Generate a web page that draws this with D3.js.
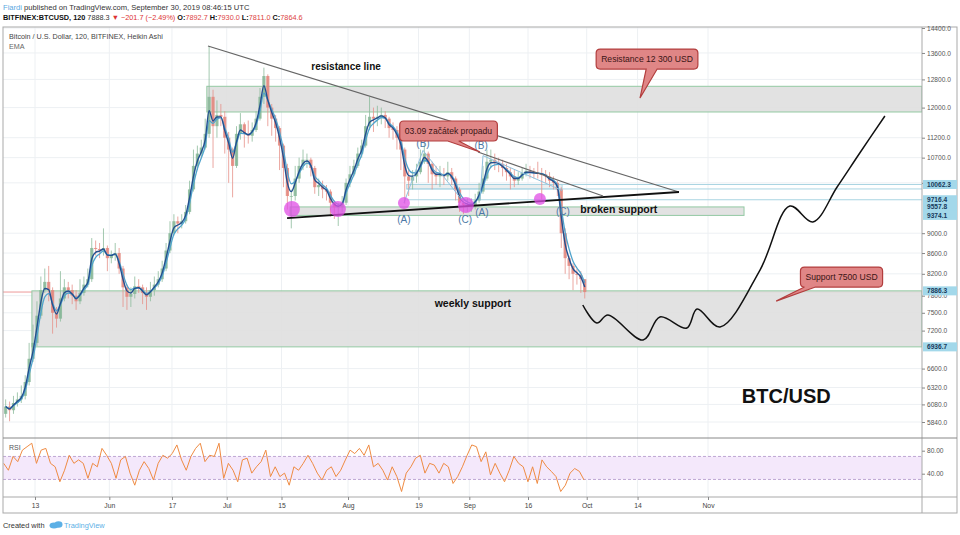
<!DOCTYPE html>
<html>
<head>
<meta charset="utf-8">
<script src="https://cdn.jsdelivr.net/npm/d3@7"></script>
<style>
  body { margin: 0; background: #fff; }
  svg { font-family: "Liberation Sans", Arial, sans-serif; }
</style>
</head>
<body>
<div id="chart"></div>
<script>
// daily values, 5 May - 30 Sep 2019 (BITFINEX BTCUSD)
var startDay = "2019-05-05";
var firstOpen = 5950;
var closes = [
  6050, 6000, 6100, 6150, 6200, 6400, 6750, 7000, 7450, 7900, 8050, 7900, 7500, 7400, 7750, 7950, 7900, 7800, 7700, 7850, 8000, 8100, 8700, 8680, 8650, 8700, 8500,
  8550, 8600, 8300, 7950, 7780, 7830, 7970, 7950, 7850, 7780, 7900, 8000, 8100, 8300, 8650, 9000, 9250, 9200, 9250, 9450, 9950, 10500, 10800, 10950, 11300, 12300, 11500, 11800, 11750, 11200,
  10900, 10500, 11300, 11550, 11300, 11250, 11400, 11700, 12300, 12900, 12000, 11700, 11450, 11000, 10450, 9800, 9800, 10200, 10500, 10650, 10650, 10450, 10000, 10050, 9950, 9900, 9650, 9550, 9550, 9650, 10100,
  10300, 10500, 10800, 11000, 11500, 11750, 11700, 11750, 11800, 11700, 11450, 11400, 11200, 10900, 10250, 10150, 10250, 10350, 10600, 10800, 10550, 10300, 10250, 10300, 10250, 10350, 10200, 9950, 9650, 9600, 9600,
  9600, 9700, 9900, 10200, 10600, 10650, 10580, 10550, 10450, 10350, 10250, 10150, 10200, 10330, 10380, 10350, 10330, 10320, 10300, 10250, 10150, 10100, 9950, 9000, 8500, 8350, 8200, 8180, 8100, 7865
];
var highs = [
  6150, 6120, 6200, 6250, 6350, 6500, 7000, 7300, 7700, 8150, 8300, 8350, 7950, 7600, 8250, 8100, 8050, 8000, 7900, 8100, 8150, 8300, 8900, 8850, 8800, 9100, 8750,
  8650, 8800, 8700, 8350, 8000, 7950, 8150, 8100, 8000, 7950, 8050, 8150, 8250, 8450, 8800, 9250, 9400, 9350, 9400, 9600, 10150, 10900, 11000, 11150, 11700, 13800, 12500, 12200, 12100, 11900,
  11350, 10950, 11500, 11850, 11600, 11650, 11600, 11900, 12550, 13150, 12950, 12100, 11800, 11500, 11050, 10550, 9950, 10500, 10700, 10900, 10800, 10700, 10500, 10200, 10150, 10050, 9950, 9700, 9650, 9800, 10200,
  10500, 10650, 10950, 11150, 11800, 12300, 12000, 12050, 12000, 11900, 11750, 11600, 11500, 11250, 10950, 10450, 10400, 10550, 10900, 11050, 10850, 10600, 10500, 10500, 10450, 10600, 10450, 10250, 10000, 9700, 9750,
  9750, 9850, 10100, 10500, 10900, 10900, 10800, 10700, 10650, 10550, 10450, 10400, 10350, 10450, 10550, 10500, 10450, 10600, 10450, 10400, 10350, 10250, 10150, 10000, 9100, 8550, 8400, 8300, 8250, 8100
];
var lows = [
  5900, 5850, 5950, 6050, 6100, 6150, 6350, 6700, 6950, 7400, 7850, 7700, 7150, 7250, 7350, 7700, 7750, 7650, 7550, 7650, 7800, 7950, 8050, 8550, 8500, 8550, 8250,
  8400, 8450, 8200, 7600, 7550, 7600, 7750, 7850, 7650, 7550, 7700, 7800, 7950, 8050, 8250, 8600, 8950, 9000, 9100, 9200, 9400, 9900, 10400, 10700, 10900, 11200, 10450, 11200, 11500, 10800,
  10100, 9770, 10450, 11150, 10950, 11050, 11100, 11350, 11650, 12100, 11500, 11250, 11100, 10400, 10000, 9500, 9100, 9700, 10100, 10400, 10450, 10250, 9850, 9800, 9750, 9700, 9350, 9300, 9150, 9450, 9600,
  10000, 10250, 10450, 10700, 10950, 11400, 11350, 11500, 11550, 11450, 11200, 11150, 10900, 10400, 9630, 9800, 9950, 10100, 10300, 10550, 10100, 9950, 10050, 10000, 10050, 10150, 10050, 9700, 9450, 9400, 9450,
  9450, 9500, 9650, 9850, 10150, 10450, 10400, 10350, 10250, 10150, 9950, 10000, 10050, 10150, 10250, 10200, 10200, 10200, 9720, 10100, 10000, 9950, 9800, 8700, 8200, 8100, 7900, 8000, 7850, 7750
];
var lastTime = "2019-09-30 08";

var rsiValues = [
  58, 46, 70, 61, 81, 87, 93, 58, 81, 84, 58, 52, 26, 46, 72, 58, 64, 58, 32, 58,
  52, 84, 72, 58, 32, 64, 70, 41, 20, 46, 61, 49, 29, 58, 72, 67, 75, 90, 64, 46,
  70, 84, 93, 61, 72, 70, 93, 32, 58, 46, 26, 64, 67, 41, 52, 61, 81, 35, 52, 35,
  41, 20, 52, 46, 58, 72, 58, 41, 29, 46, 52, 35, 46, 64, 81, 75, 84, 72, 90, 52,
  58, 46, 29, 52, 35, 9, 41, 52, 67, 72, 41, 58, 55, 41, 58, 52, 23, 35, 52, 72,
  90, 87, 61, 78, 38, 58, 41, 26, 46, 70, 58, 52, 26, 52, 23, 64, 52, 44, 35, 9,
  20, 41, 49, 44, 29
];

// axes
var priceTicks = [14400, 13600, 12800, 12000, 11200, 10700, 10100, 9000, 8600, 8200, 7800, 7500, 7200, 6600, 6320, 6080, 5840];
var markedPrices = [10062.3, 9716.4, 9557.8, 9374.1, 7886.3, 6936.7];
var timeTicks = ["2019-05-13", "2019-06-01", "2019-06-17", "2019-07-01", "2019-07-15", "2019-08-01", "2019-08-19", "2019-09-01", "2019-09-16", "2019-10-01", "2019-10-14", "2019-11-01"];
var timeLabels = ["13", "Jun", "17", "Jul", "15", "Aug", "19", "Sep", "16", "Oct", "14", "Nov"];

// drawings
var zoneFrom = ["2019-06-25 22", "2019-05-12 05", "2019-07-17 05", "2019-08-16 00"];
var zoneTo = [null, null, "2019-11-10 05", "2019-09-24 17"];
var zoneTop = [12600, 7886.3, 9557.8, 10062.3];
var zoneBottom = [11880, 6936.7, 9374.1, 9960];

var levelFrom = ["2019-08-16 00", "2019-08-16 00", "2019-08-16 00"];
var levelPrices = [10062.3, 9960, 9716.4];

var trendFrom = ["2019-06-26 05", "2019-07-16 10", "2019-09-03 05"];
var trendFromPrice = [13818, 9318, 10839];
var trendTo = ["2019-10-24 14", "2019-10-24 14", "2019-10-05 04"];
var trendToPrice = [9890, 9890, 9799];

var waveADates = ["2019-08-15 07", "2019-08-20 04", "2019-08-31 03"];
var waveAPrices = [9644, 10880, 9600];
var waveBDates = ["2019-09-03 17", "2019-09-04 12", "2019-09-24 17"];
var waveBPrices = [9700, 10750, 9925];

var circleDates = ["2019-07-17 16", "2019-07-29 10", "2019-08-15 07", "2019-08-31 03", "2019-09-19 01"];
var circlePrices = [9513, 9513, 9644, 9600, 9733];

var waveText = ["(A)", "(B)", "(C)", "(A)", "(B)", "(C)"];
var waveDates = ["2019-08-15 07", "2019-08-20 04", "2019-08-30 22", "2019-09-04 05", "2019-09-04 00", "2019-09-24 22"];
var wavePrices = [9297, 11065, 9297, 9426, 10990, 9448];

var noteText = ["resistance line", "weekly support", "broken support", "BTC/USD"];
var noteDates = ["2019-07-31 12", "2019-09-01 22", "2019-10-09 05", "2019-11-21 00"];
var notePrices = [13199, 7669, 9513, 6198];

var calloutText = ["Resistance 12 300 USD", "03.09 začátek propadu", "Support 7500 USD"];
var calloutDates = ["2019-10-16 10", "2019-08-26 16", "2019-12-05 03"];
var calloutPrices = [13412, 11373, 8140];
var tipDates = ["2019-10-14 15", "2019-09-03 17", "2019-11-18 10"];
var tipPrices = [12266, 10839, 7704];

// hand drawn projection
var projDates = ["2019-09-30 00", "2019-10-03 14", "2019-10-06 10", "2019-10-15 10", "2019-10-19 17", "2019-10-26 14", "2019-10-29 05",
  "2019-11-04 02", "2019-11-14 07", "2019-11-21 22", "2019-11-27 19", "2019-12-04 00", "2019-12-09 19", "2019-12-16 05"];
var projPrices = [7635, 7327, 7462, 7046, 7428, 7242, 7565, 7259, 8272, 9578, 9233, 10004, 10814, 11771];

// layout
var svgWidth = 960;
var svgHeight = 535;
var pane = { left: 3, right: 922, outer: 957, top: 27, main: 438, rsi: 497, bottom: 513 };

var parseDay = d3.utcParse("%Y-%m-%d");
var parseHour = d3.utcParse("%Y-%m-%d %H");

var svg = d3.select("#chart")
  .append("svg")
  .attr("width", svgWidth)
  .attr("height", svgHeight);

var x = d3.scaleUtc()
  .domain([parseDay("2019-05-13"), parseDay("2019-11-01")])
  .range([35, 708]);

var y = d3.scaleLog()
  .domain([5840, 14400])
  .range([422, 28]);

var yRsi = d3.scaleLinear()
  .domain([0, 100])
  .range([496.7, 439.2]);

var day0 = parseDay(startDay);
var candles = closes.map(function(c, i) {
  return {
    date: d3.utcHour.offset(d3.utcDay.offset(day0, i), 12),
    open: i ? closes[i - 1] : firstOpen,
    close: c,
    high: highs[i],
    low: lows[i]
  };
});

function ema(values, n) {
  var k = 2 / (n + 1), prev = values[0];
  return values.map(function(v) { prev = v * k + prev * (1 - k); return prev; });
}

// header
var head1 = svg.append("text").attr("x", 3).attr("y", 10).style("font-size", "7.6px");
head1.append("tspan").attr("fill", "#5aa8df").text("Fiardi");
head1.append("tspan").attr("fill", "#333").text(" published on TradingView.com, September 30, 2019 08:46:15 UTC");

var head2 = svg.append("text").attr("x", 3).attr("y", 20).style("font-size", "7.3px");
head2.append("tspan").attr("font-weight", "bold").attr("fill", "#111").text("BITFINEX:BTCUSD, 120");
head2.append("tspan").attr("fill", "#333").text(" 7888.3 ");
head2.append("tspan").attr("fill", "#d33").text("\u25BC \u2212201.7 (\u22122.49%)");
[["O:", "7892.7"], ["H:", "7930.0"], ["L:", "7811.0"], ["C:", "7864.6"]].forEach(function(p) {
  head2.append("tspan").attr("font-weight", "bold").attr("fill", "#111").text(" " + p[0]);
  head2.append("tspan").attr("fill", "#d44").text(p[1]);
});

// clip paths
var defs = svg.append("defs");
defs.append("clipPath").attr("id", "mainClip").append("rect")
  .attr("x", pane.left).attr("y", pane.top).attr("width", pane.right - pane.left).attr("height", pane.main - pane.top);
defs.append("clipPath").attr("id", "rsiClip").append("rect")
  .attr("x", pane.left).attr("y", pane.main).attr("width", pane.right - pane.left).attr("height", pane.rsi - pane.main);

// grid
var grid = svg.append("g");
grid.selectAll(".hgrid")
  .data(priceTicks)
  .enter()
  .append("line")
  .attr("x1", pane.left).attr("x2", pane.right)
  .attr("y1", d => y(d)).attr("y2", d => y(d))
  .attr("stroke", "#edf0f3");
grid.selectAll(".vgrid")
  .data(timeTicks)
  .enter()
  .append("line")
  .attr("x1", d => x(parseDay(d))).attr("x2", d => x(parseDay(d)))
  .attr("y1", pane.top).attr("y2", pane.rsi)
  .attr("stroke", "#edf0f3");

var main = svg.append("g").attr("clip-path", "url(#mainClip)");

// last price line
main.append("line")
  .attr("x1", pane.left).attr("x2", pane.right)
  .attr("y1", y(closes[closes.length - 1])).attr("y2", y(closes[closes.length - 1]))
  .attr("stroke", "#e88080").attr("stroke-width", 0.8);

// zones
zoneFrom.forEach(function(f, i) {
  var x0 = x(parseHour(f));
  var x1 = zoneTo[i] ? x(parseHour(zoneTo[i])) : pane.right;
  main.append("rect")
    .attr("x", x0).attr("y", y(zoneTop[i]))
    .attr("width", x1 - x0).attr("height", y(zoneBottom[i]) - y(zoneTop[i]))
    .attr("fill", i == 3 ? "#e9eced" : "#dfdfdf")
    .attr("fill-opacity", 0.9)
    .attr("stroke", i == 3 ? "#a9d4e2" : "#93c9a3")
    .attr("stroke-width", 1);
});

levelFrom.forEach(function(f, i) {
  main.append("line")
    .attr("x1", x(parseHour(f))).attr("x2", pane.right)
    .attr("y1", y(levelPrices[i])).attr("y2", y(levelPrices[i]))
    .attr("stroke", "#a9d4e2").attr("stroke-width", 1);
});

// candles
var candleGroup = main.append("g");
candleGroup.selectAll(".wick")
  .data(candles)
  .enter()
  .append("line")
  .attr("x1", d => x(d.date)).attr("x2", d => x(d.date))
  .attr("y1", d => y(d.high)).attr("y2", d => y(d.low))
  .attr("stroke", d => d.close >= d.open ? "#8dbb9c" : "#e69189")
  .attr("stroke-width", 0.8);
candleGroup.selectAll(".body")
  .data(candles)
  .enter()
  .append("rect")
  .attr("x", d => x(d.date) - 1.6)
  .attr("width", 3.2)
  .attr("y", d => y(Math.max(d.open, d.close)))
  .attr("height", d => Math.max(0.8, Math.abs(y(d.open) - y(d.close))))
  .attr("fill", d => d.close >= d.open ? "#86b696" : "#e3867d")
  .attr("fill-opacity", 0.85);

// EMA lines
var emaSlow = ema(closes, 3);
var emaFast = ema(closes, 2);
var emaLine = d3.line()
  .x((d, i) => x(candles[i].date))
  .y(d => y(d))
  .curve(d3.curveMonotoneX);
main.append("path").datum(emaSlow).attr("d", emaLine)
  .attr("fill", "none").attr("stroke", "#4fa3cc").attr("stroke-width", 1.3);
main.append("path").datum(emaFast).attr("d", emaLine)
  .attr("fill", "none").attr("stroke", "#234f8f").attr("stroke-width", 1.4);

// trend lines
trendFrom.forEach(function(f, i) {
  main.append("line")
    .attr("x1", x(parseHour(f))).attr("y1", y(trendFromPrice[i]))
    .attr("x2", x(parseHour(trendTo[i]))).attr("y2", y(trendToPrice[i]))
    .attr("stroke", i == 1 ? "#111" : "#666")
    .attr("stroke-width", i == 1 ? 1.8 : 1.2);
});

// wave connectors
var waveLine = d3.line().x(d => x(parseHour(d[0]))).y(d => y(d[1]));
[d3.zip(waveADates, waveAPrices), d3.zip(waveBDates, waveBPrices)].forEach(function(pts) {
  main.append("path").datum(pts).attr("d", waveLine)
    .attr("fill", "none").attr("stroke", "#8fc0dc").attr("stroke-width", 1);
});

// magenta markers
var circleSize = [8, 8, 6, 8, 6];
main.selectAll(".dot")
  .data(circleDates)
  .enter()
  .append("circle")
  .attr("cx", d => x(parseHour(d)))
  .attr("cy", (d, i) => y(circlePrices[i]))
  .attr("r", (d, i) => circleSize[i])
  .attr("fill", "#e04ee6")
  .attr("opacity", 0.75);

// wave labels
main.selectAll(".wave")
  .data(waveText)
  .enter()
  .append("text")
  .attr("x", (d, i) => x(parseHour(waveDates[i])))
  .attr("y", (d, i) => y(wavePrices[i]))
  .attr("dy", "0.35em")
  .style("text-anchor", "middle")
  .style("font-size", "10px")
  .attr("fill", "#4d78a6")
  .text(d => d);

// text notes
var noteSize = [10, 10.5, 10.5, 20];
main.selectAll(".note")
  .data(noteText)
  .enter()
  .append("text")
  .attr("x", (d, i) => x(parseHour(noteDates[i])))
  .attr("y", (d, i) => y(notePrices[i]))
  .attr("dy", "0.35em")
  .style("text-anchor", "middle")
  .style("font-weight", "bold")
  .style("font-size", (d, i) => noteSize[i] + "px")
  .attr("fill", "#111")
  .text(d => d);

// projection
var projLine = d3.line()
  .x(d => x(parseHour(d[0])))
  .y(d => y(d[1]))
  .curve(d3.curveCatmullRom.alpha(0.5));
main.append("path")
  .datum(d3.zip(projDates, projPrices))
  .attr("d", projLine)
  .attr("fill", "none")
  .attr("stroke", "#111")
  .attr("stroke-width", 1.5);

// callouts
var baseOffset = [50, 48, 4];
calloutText.forEach(function(t, i) {
  var cx = x(parseHour(calloutDates[i])), cy = y(calloutPrices[i]);
  var g = main.append("g");
  var label = g.append("text")
    .attr("x", cx).attr("y", cy).attr("dy", "0.35em")
    .style("text-anchor", "middle")
    .style("font-size", "8.6px")
    .attr("fill", "#3a1515")
    .text(t);
  var b = label.node().getBBox();
  var x0 = b.x - 5, x1 = b.x + b.width + 5, y0 = cy - 10, y1 = cy + 10, r = 4;
  var bx1 = x0 + baseOffset[i], bx2 = bx1 + 11;
  var tx = x(parseHour(tipDates[i])), ty = y(tipPrices[i]);
  var p = d3.path();
  p.moveTo(x0 + r, y0);
  p.lineTo(x1 - r, y0);
  p.quadraticCurveTo(x1, y0, x1, y0 + r);
  p.lineTo(x1, y1 - r);
  p.quadraticCurveTo(x1, y1, x1 - r, y1);
  p.lineTo(bx2, y1);
  p.lineTo(tx, ty);
  p.lineTo(bx1, y1);
  p.lineTo(x0 + r, y1);
  p.quadraticCurveTo(x0, y1, x0, y1 - r);
  p.lineTo(x0, y0 + r);
  p.quadraticCurveTo(x0, y0, x0 + r, y0);
  p.closePath();
  g.insert("path", "text")
    .attr("d", p.toString())
    .attr("fill", "#e08686")
    .attr("stroke", "#b23e3e")
    .attr("stroke-width", 1.2);
});

// chart title
svg.append("text").attr("x", 9).attr("y", 39)
  .style("font-size", "7.2px").attr("fill", "#444")
  .text("Bitcoin / U.S. Dollar, 120, BITFINEX, Heikin Ashi");
svg.append("text").attr("x", 9).attr("y", 49)
  .style("font-size", "7.2px").attr("fill", "#666")
  .text("EMA");

// RSI pane
var rsiGroup = svg.append("g").attr("clip-path", "url(#rsiClip)");
rsiGroup.append("rect")
  .attr("x", pane.left).attr("width", pane.right - pane.left)
  .attr("y", yRsi(70)).attr("height", yRsi(30) - yRsi(70))
  .attr("fill", "#f4e8fb");
[70, 30].forEach(function(v) {
  rsiGroup.append("line")
    .attr("x1", pane.left).attr("x2", pane.right)
    .attr("y1", yRsi(v)).attr("y2", yRsi(v))
    .attr("stroke", "#bfa6d4").attr("stroke-dasharray", "3,2");
});
var rsiStart = day0, rsiEnd = parseHour(lastTime);
var rsiStep = (rsiEnd - rsiStart) / (rsiValues.length - 1);
var rsiLine = d3.line()
  .x((d, i) => x(new Date(+rsiStart + i * rsiStep)))
  .y(d => yRsi(d));
rsiGroup.append("path").datum(rsiValues).attr("d", rsiLine)
  .attr("fill", "none").attr("stroke", "#ef8b43").attr("stroke-width", 1);
svg.append("text").attr("x", 9).attr("y", 450)
  .style("font-size", "7px").attr("fill", "#555").text("RSI");

// frame
var frame = svg.append("g").attr("stroke", "#a9a9a9").attr("fill", "none");
frame.append("rect").attr("x", pane.left).attr("y", pane.top)
  .attr("width", pane.outer - pane.left).attr("height", pane.bottom - pane.top);
frame.append("line").attr("x1", pane.right).attr("x2", pane.right).attr("y1", pane.top).attr("y2", pane.bottom);
frame.append("line").attr("x1", pane.left).attr("x2", pane.outer).attr("y1", pane.main).attr("y2", pane.main).attr("stroke", "#888");
frame.append("line").attr("x1", pane.left).attr("x2", pane.outer).attr("y1", pane.rsi).attr("y2", pane.rsi);

// price axis
var priceAxis = d3.axisRight(y)
  .tickValues(priceTicks)
  .tickFormat(d3.format(".1f"))
  .tickSize(3);
var pa = svg.append("g")
  .attr("transform", `translate(${pane.right}, 0)`)
  .call(priceAxis);
pa.select(".domain").remove();
pa.selectAll("line").attr("stroke", "#888");
pa.selectAll("text").attr("fill", "#555").style("font-size", "6.6px").attr("x", 5);

var marked = svg.append("g");
markedPrices.forEach(function(p) {
  marked.append("rect")
    .attr("x", pane.right + 1).attr("y", y(p) - 4.5)
    .attr("width", 34).attr("height", 9)
    .attr("fill", "#a3d8ea");
  marked.append("text")
    .attr("x", pane.right + 5).attr("y", y(p)).attr("dy", "0.35em")
    .style("font-size", "6.6px").style("font-weight", "bold")
    .attr("fill", "#173a5c")
    .text(p.toFixed(1));
});

// RSI axis
var rsiAxis = d3.axisRight(yRsi).tickValues([80, 40]).tickFormat(d3.format(".2f")).tickSize(3);
var ra = svg.append("g").attr("transform", `translate(${pane.right}, 0)`).call(rsiAxis);
ra.select(".domain").remove();
ra.selectAll("line").attr("stroke", "#888");
ra.selectAll("text").attr("fill", "#555").style("font-size", "6.6px").attr("x", 5);

// time axis
var timeAxis = d3.axisBottom(x)
  .tickValues(timeTicks.map(parseDay))
  .tickFormat((d, i) => timeLabels[i])
  .tickSize(3);
var ta = svg.append("g")
  .attr("transform", `translate(0, ${pane.rsi})`)
  .call(timeAxis);
ta.select(".domain").remove();
ta.selectAll("line").attr("stroke", "#888");
ta.selectAll("text").attr("fill", "#444").style("font-size", "6.8px").attr("y", 6);

// footer
svg.append("text").attr("x", 3).attr("y", 528)
  .style("font-size", "7.4px").attr("fill", "#333").text("Created with");
var logo = svg.append("g").attr("fill", "#5cb0e6");
logo.append("ellipse").attr("cx", 54).attr("cy", 525.5).attr("rx", 4.5).attr("ry", 3);
logo.append("ellipse").attr("cx", 58.5).attr("cy", 524.5).attr("rx", 4).attr("ry", 3.2);
svg.append("text").attr("x", 64).attr("y", 528)
  .style("font-size", "7.4px").attr("fill", "#5cb0e6").text("TradingView");
</script>
</body>
</html>
